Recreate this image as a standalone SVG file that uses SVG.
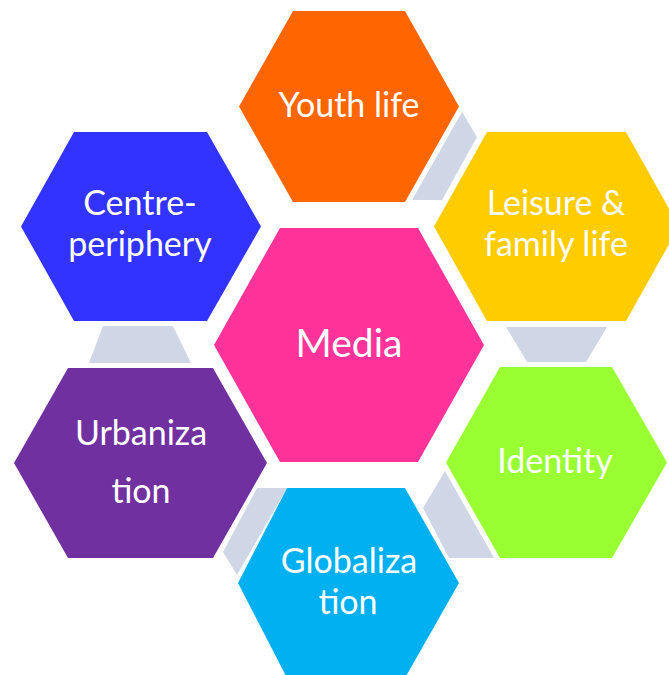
<svg xmlns="http://www.w3.org/2000/svg" width="669" height="675" viewBox="0 0 669 675">
<style>
.lbl{font-family:Lato,"Liberation Sans",sans-serif;font-size:34px;fill:#FFFFFF;text-anchor:middle}
.big{font-size:39px}
.link{fill:#CFD6E5}
</style>
<rect width="669" height="675" fill="#FFFFFF"/>
<g id="connectors">
<polygon class="link" points="462,112 477,137 442,200 412,200"/>
<polygon class="link" points="506,327 607,327 586,362 527,362"/>
<polygon class="link" points="445,471 494,558 449,558 423,508"/>
<polygon class="link" points="257,488 287,488 237,575 223,552"/>
<polygon class="link" points="103,326 173,326 191,363 89,363"/>
</g>
<g id="youth">
<polygon points="239,106.5 293,11 405,11 459,106.5 405,202 293,202" fill="#FF6600"/>
<text class="lbl" x="349" y="117">Youth life</text>
</g>
<g id="leisure">
<polygon points="434,226.5 487,132 626,132 679,226.5 626,321 487,321" fill="#FFCC00"/>
<text class="lbl" x="556" y="215">Leisure &amp;</text>
<text class="lbl" x="556" y="256">family life</text>
</g>
<g id="centre">
<polygon points="21,226.5 74,132 207,132 261,226.5 207,321 74,321" fill="#3333FF"/>
<text class="lbl" x="140" y="215">Centre-</text>
<text class="lbl" x="140" y="256">periphery</text>
</g>
<g id="media">
<polygon points="214,345 280,228 418,228 484,345 418,462 280,462" fill="#FF3399"/>
<text class="lbl big" x="349" y="357">Media</text>
</g>
<g id="urbanization">
<polygon points="14,463 68,368 213,368 267,463 213,558 68,558" fill="#7030A0"/>
<text class="lbl" x="141" y="445">Urbaniza</text>
<text class="lbl" x="141" y="503">tion</text>
</g>
<g id="identity">
<polygon points="446,462.5 500,367 612,367 667,462.5 612,558 500,558" fill="#99FF33"/>
<text class="lbl" x="555" y="473">Identity</text>
</g>
<g id="globalization">
<polygon points="238,583 287,488 405,488 459,583 405,678 287,678" fill="#00B0F0"/>
<text class="lbl" x="349" y="573">Globaliza</text>
<text class="lbl" x="348" y="614">tion</text>
</g>
</svg>
